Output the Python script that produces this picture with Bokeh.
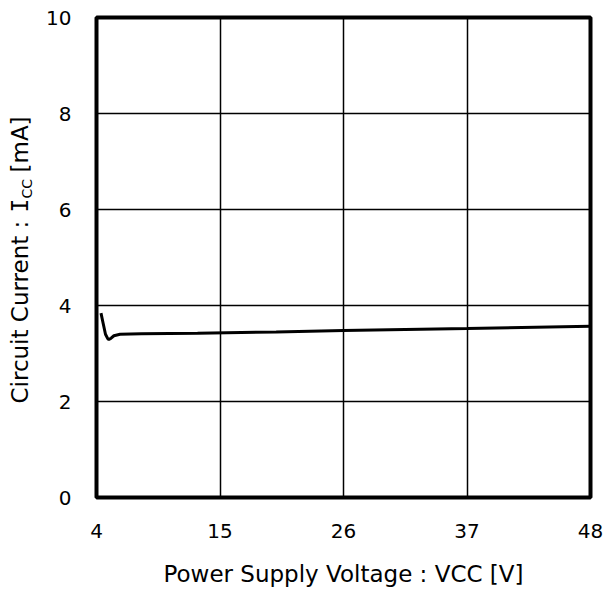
from math import pi

from bokeh.embed import file_html
from bokeh.layouts import row
from bokeh.models import FixedTicker, Label, Range1d
from bokeh.plotting import figure
from bokeh.resources import INLINE

# Supply current versus supply voltage
voltage = [4.4, 4.6, 4.8, 5.0, 5.1, 5.3, 5.55, 6.1, 8.0, 13.0, 20.0, 26.0, 37.0, 48.0]
current = [3.84, 3.62, 3.40, 3.31, 3.29, 3.32, 3.37, 3.40, 3.41, 3.42, 3.45, 3.48, 3.52, 3.57]

x_ticks = [4, 15, 26, 37, 48]
y_ticks = [0, 2, 4, 6, 8, 10]

FONT = "DejaVu Sans"
TITLE_W = 40  # strip on the left that holds the rotated y title

p = figure(
    width=606 - TITLE_W,
    height=590,
    x_range=Range1d(4, 48),
    y_range=Range1d(0, 10),
    output_backend="svg",
    toolbar_location=None,
    min_border_left=96 - TITLE_W,
    min_border_right=16,
    min_border_top=17,
    min_border_bottom=93,
)

p.outline_line_color = "black"
p.outline_line_width = 4
p.outline_line_alpha = 1.0

p.xaxis.ticker = FixedTicker(ticks=x_ticks)
p.yaxis.ticker = FixedTicker(ticks=y_ticks)
for ax in (p.xaxis[0], p.yaxis[0]):
    ax.axis_line_color = None
    ax.major_tick_line_color = None
    ax.minor_tick_line_color = None
    ax.major_tick_out = 0
    ax.major_tick_in = 0
    ax.minor_tick_out = 0
    ax.minor_tick_in = 0
    ax.major_label_text_font = FONT
    ax.major_label_text_font_size = "20px"
    ax.major_label_text_color = "black"
    ax.axis_label_text_font = FONT
    ax.axis_label_text_font_style = "normal"
    ax.axis_label_text_font_size = "23px"
    ax.axis_label_text_color = "black"

p.xaxis.major_label_standoff = 26
p.yaxis.major_label_standoff = 25
p.xaxis.axis_label = "Power Supply Voltage : VCC [V]"
p.xaxis.axis_label_standoff = 20

p.xgrid.grid_line_color = "black"
p.ygrid.grid_line_color = "black"
p.xgrid.grid_line_width = 1.5
p.ygrid.grid_line_width = 1.5

p.line(voltage, current, line_color="black", line_width=3)

# Narrow strip holding the rotated y title (with the CC subscript).
# In a row its frame lines up with the main frame vertically, so the
# screen offsets below are measured up from the bottom of that frame.
t = figure(
    width=TITLE_W,
    height=590,
    x_range=Range1d(0, TITLE_W),
    y_range=Range1d(0, 10),
    output_backend="svg",
    toolbar_location=None,
    x_axis_location=None,
    y_axis_location=None,
    min_border=0,
)
t.outline_line_color = None
t.xgrid.visible = False
t.ygrid.visible = False

label_style = dict(
    x_units="screen", y_units="screen", angle=pi / 2, text_color="black",
    text_baseline="middle", text_align="left",
)
t.add_layout(Label(x=19, y=94, text="Circuit Current : ", text_font=FONT,
                   text_font_size="23px", **label_style))
t.add_layout(Label(x=19, y=285, text="I", text_font="DejaVu Sans Mono",
                   text_font_size="23px", **label_style))
t.add_layout(Label(x=26, y=299, text="CC", text_font=FONT,
                   text_font_size="14px", **label_style))
t.add_layout(Label(x=19, y=325, text="[mA]", text_font=FONT,
                   text_font_size="23px", **label_style))

layout = row(t, p)
open("out.html", "w").write(file_html(layout, INLINE))
